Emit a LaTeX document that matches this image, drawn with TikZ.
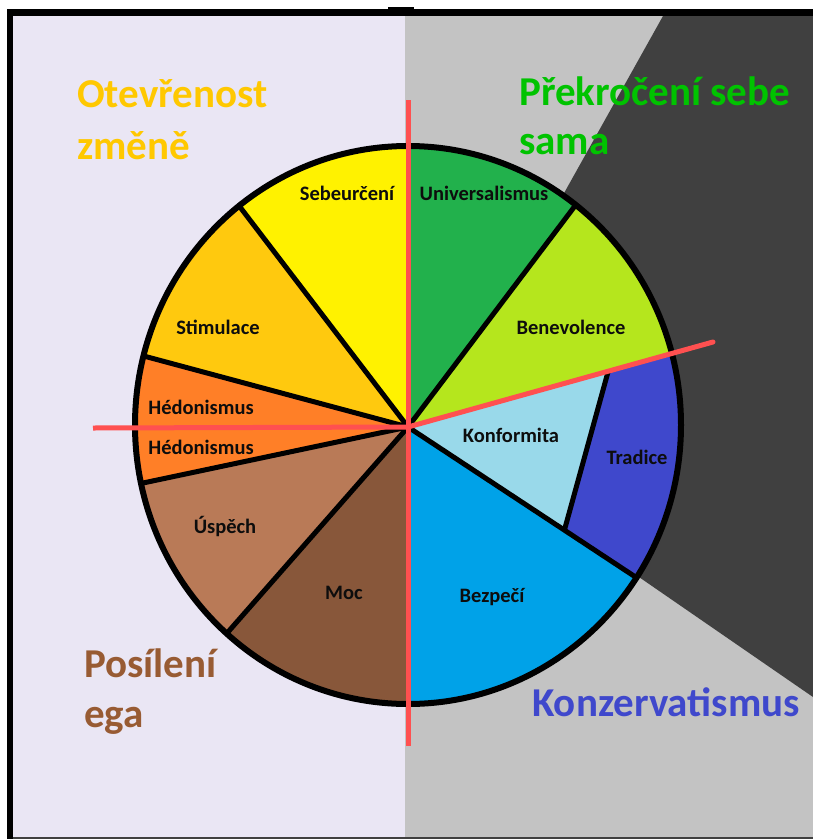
\documentclass[tikz,border=0pt]{standalone}
\usepackage{fontspec}
\setmainfont{Carlito}
\usetikzlibrary{calc}
\definecolor{lav}{RGB}{234,230,244}
\definecolor{gry}{RGB}{195,195,195}
\definecolor{drk}{RGB}{64,64,64}
\definecolor{cSeb}{RGB}{255,242,0}
\definecolor{cStim}{RGB}{255,201,14}
\definecolor{cHed}{RGB}{255,127,39}
\definecolor{cUsp}{RGB}{185,122,87}
\definecolor{cMoc}{RGB}{136,87,58}
\definecolor{cBez}{RGB}{0,162,232}
\definecolor{cTra}{RGB}{63,72,204}
\definecolor{cKon}{RGB}{153,217,234}
\definecolor{cBen}{RGB}{181,230,29}
\definecolor{cUni}{RGB}{34,177,76}
\definecolor{redl}{RGB}{255,80,80}
\definecolor{tOte}{RGB}{255,200,0}
\definecolor{tPre}{RGB}{0,195,0}
\definecolor{tPos}{RGB}{152,91,51}
\definecolor{tKon}{RGB}{63,72,204}
\tikzset{
  seg/.style={black,line width=5pt},
  redline/.style={redl,line width=5pt},
  slabel/.style={font=\bfseries\fontsize{20.5}{20.5}\selectfont,text=black!95,inner sep=0pt},
  blabel/.style={font=\bfseries\fontsize{41}{41}\selectfont,inner sep=0pt,anchor=base west}
}
\begin{document}
\begin{tikzpicture}[x=1pt,y=-1pt]
\useasboundingbox (0,0) rectangle (813,839);
\fill[white] (0,0) rectangle (813,839);
\fill[lav] (7,9) rectangle (405,839);
\fill[gry] (405,9) rectangle (813,839);
\fill[drk] (663,16) -- (813,16) -- (813,697) -- (430,433) -- cycle;
\fill[black] (7,9) rectangle (813,16);
\fill[black] (7,9) rectangle (13,839);
\fill[black] (388,7) rectangle (414,10);
\draw[drk,line width=1.5pt] (13,838.2) -- (813,838.2);

\coordinate (C) at (408,427);
\coordinate (bU) at (408,145);
\coordinate (bUB) at (587,190);
\coordinate (bR) at (713,342);
\coordinate (bKB) at (637,578);
\coordinate (bD) at (408,703);
\coordinate (bMU) at (228,632);
\coordinate (bUH) at (143,483);
\coordinate (bL) at (135,427);
\coordinate (bHS) at (140,355);
\coordinate (bSS) at (240,207);
\coordinate (T1) at (608,372);
\coordinate (T2) at (565,528);

\begin{scope}
\clip (408,425) ellipse [x radius=273pt, y radius=279pt];
\fill[cUni] (C) -- ($(C)!2!(bU)$) -- ($(C)!2!(bUB)$) -- cycle;
\fill[cBen] (C) -- ($(C)!2!(bUB)$) -- ($(C)!2!(bR)$) -- cycle;
\fill[cKon] (C) -- ($(C)!2!(bR)$) -- ($(C)!2!(bKB)$) -- cycle;
\fill[cBez] (C) -- ($(C)!2!(bKB)$) -- ($(C)!2!(bD)$) -- cycle;
\fill[cMoc] (C) -- ($(C)!2!(bD)$) -- ($(C)!2!(bMU)$) -- cycle;
\fill[cUsp] (C) -- ($(C)!2!(bMU)$) -- ($(C)!2!(bUH)$) -- cycle;
\fill[cHed] (C) -- ($(C)!2!(bUH)$) -- ($(C)!2!(bL)$) -- ($(C)!2!(bHS)$) -- cycle;
\fill[cStim] (C) -- ($(C)!2!(bHS)$) -- ($(C)!2!(bSS)$) -- cycle;
\fill[cSeb] (C) -- ($(C)!2!(bSS)$) -- ($(C)!2!(bU)$) -- cycle;
\begin{scope}
\clip (C) -- ($(C)!2!(bR)$) -- ($(C)!2!(bKB)$) -- cycle;
\fill[cTra] ($(T1)!-1!(T2)$) -- (1000,216) -- (1000,684) -- ($(T2)!-1!(T1)$) -- cycle;
\draw[seg] ($(T1)!-1!(T2)$) -- ($(T2)!-1!(T1)$);
\end{scope}
\foreach \p in {bU,bUB,bKB,bD,bMU,bUH,bHS,bSS}
  \draw[seg] (C) -- ($(C)!1.2!(\p)$);
\end{scope}
\draw[black,line width=6pt] (408,425) ellipse [x radius=273pt, y radius=279pt];

\draw[redline] (408,100) -- (408,746);
\draw[redline] (93,428) -- (C);
\draw[redline,line cap=round] (C) -- (713,342);

\node[slabel] (lSeb) at (347,193) {Sebeurčení};
\node[slabel] (lUni) at (484,193) {Universalismus};
\node[slabel] (lBen) at (571,327) {Benevolence};
\node[slabel] (lStim) at (218,327) {Stimulace};
\node[slabel] (lHed1) at (201,407) {Hédonismus};
\node[slabel] (lHed2) at (201,447) {Hédonismus};
\node[slabel] (lKon) at (511,435) {Konformita};
\node[slabel] (lTra) at (637,457) {Tradice};
\node[slabel] (lUsp) at (225,526) {Úspěch};
\node[slabel] (lMoc) at (344,593) {Moc};
\node[slabel] (lBez) at (492,597) {Bezpečí};

\node[blabel,text=tOte] (gO1) at (77,107) {Otevřenost};
\node[blabel,text=tOte] (gO2) at (77,159) {změně};
\node[blabel,text=tPre] (gP1) at (519,105) {Překročení sebe};
\node[blabel,text=tPre] (gP2) at (519,154) {sama};
\node[blabel,text=tPos] (gE1) at (84,677) {Posílení};
\node[blabel,text=tPos] (gE2) at (84,727) {ega};
\node[blabel,text=tKon] (gK) at (532,716) {Konzervatismus};
\end{tikzpicture}
\end{document}
